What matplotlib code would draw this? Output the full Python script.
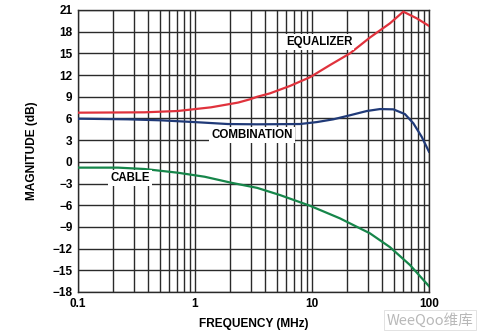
import matplotlib
matplotlib.use("Agg")
import matplotlib.pyplot as plt
from matplotlib.ticker import FixedLocator, NullFormatter

plt.rcParams['font.family'] = ['Liberation Sans', 'DejaVu Sans']

# Frequency response data (MHz, dB)
freq_eq = [0.1, 0.37, 0.71, 1.37, 2.34, 2.95, 3.4, 4.37, 6.49, 9.6, 14.3, 21.1, 31.3,
           46.4, 60.3, 78.5, 100]
gain_eq = [6.8, 6.85, 7.03, 7.54, 8.2, 8.65, 9.0, 9.47, 10.5, 11.7, 13.4, 15.0, 17.2,
           19.16, 20.77, 19.85, 18.8]

freq_comb = [0.1, 0.267, 0.515, 0.99, 1.91, 3.4, 7.89, 11, 15.2, 21.1, 29.4, 38.1,
             49.6, 62.3, 73.5, 86.5, 100]
gain_comb = [5.97, 5.88, 5.74, 5.5, 5.23, 5.19, 5.23, 5.5, 5.88, 6.44, 7.03, 7.3,
             7.26, 6.6, 5.33, 3.48, 1.4]

freq_cable = [0.1, 0.22, 0.37, 0.71, 1.21, 2.04, 3.4, 5.32, 9.6, 17.3, 31.3, 46.4,
              68.8, 100]
gain_cable = [-0.8, -0.8, -0.99, -1.5, -2.06, -2.89, -3.6, -4.59, -6.07, -7.81, -9.89,
              -11.8, -14.27, -17.2]

x_ticks = [0.1, 1, 10, 100]
x_tick_labels = ["0.1", "1", "10", "100"]
y_ticks = list(range(-18, 22, 3))
y_tick_labels = [str(v).replace("-", "\u2212") for v in y_ticks]

fig = plt.figure(figsize=(4.83, 3.31), dpi=100)
ax = fig.add_axes([78 / 483, 1 - 292 / 331, (429 - 78) / 483, (292 - 10) / 331])

ax.set_xscale("log")
ax.set_xlim(0.1, 100)
ax.set_ylim(-18, 21)

grid_color = "#2a2a2a"
ax.xaxis.set_major_locator(FixedLocator(x_ticks))
minor = [m * 10.0 ** e for e in (-1, 0, 1) for m in range(2, 10)]
ax.xaxis.set_minor_locator(FixedLocator(minor))
ax.xaxis.set_minor_formatter(NullFormatter())
ax.set_xticklabels(x_tick_labels)
ax.set_yticks(y_ticks)
ax.set_yticklabels(y_tick_labels)
ax.grid(True, which="major", color=grid_color, lw=1.0)
ax.grid(True, which="minor", axis="x", color=grid_color, lw=1.0)
ax.set_axisbelow(True)
ax.tick_params(which="both", length=0, labelsize=8.5, pad=4)
for lab in ax.get_xticklabels() + ax.get_yticklabels():
    lab.set_fontweight("bold")
for s in ax.spines.values():
    s.set_color(grid_color)
    s.set_linewidth(1.0)

ax.plot(freq_eq, gain_eq, color="#e0323c", lw=1.6, zorder=3)
ax.plot(freq_comb, gain_comb, color="#203a78", lw=1.6, zorder=3)
ax.plot(freq_cable, gain_cable, color="#16864a", lw=1.6, zorder=3)

label_kw = dict(fontsize=8.3, fontweight="bold", ha="center", va="center", zorder=4,
                bbox=dict(facecolor="white", edgecolor="none", pad=1.5))
ax.text(10 ** ((319 - 78) / 117 - 1), 21 - (42 - 10) / 7.23, "EQUALIZER", **label_kw)
ax.text(10 ** ((252 - 78) / 117 - 1), 21 - (135 - 10) / 7.23, "COMBINATION", **label_kw)
ax.text(10 ** ((130 - 78) / 117 - 1), 21 - (178 - 10) / 7.23, "CABLE", **label_kw)

ax.set_xlabel("FREQUENCY (MHz)", fontsize=8.6, fontweight="bold", labelpad=6)
ax.set_ylabel("MAGNITUDE (dB)", fontsize=8.6, fontweight="bold", labelpad=10)

fig.text(430 / 483, 1 - 320 / 331, "WeeQoo维库", fontsize=10.5, color="#b8b8b8",
         ha="center", va="center", style="italic", zorder=5,
         family=["Noto Sans CJK SC", "DejaVu Sans"],
         bbox=dict(facecolor="white", edgecolor="#dddddd", lw=0.6, pad=2.0))

fig.savefig("out.png", dpi=100)
